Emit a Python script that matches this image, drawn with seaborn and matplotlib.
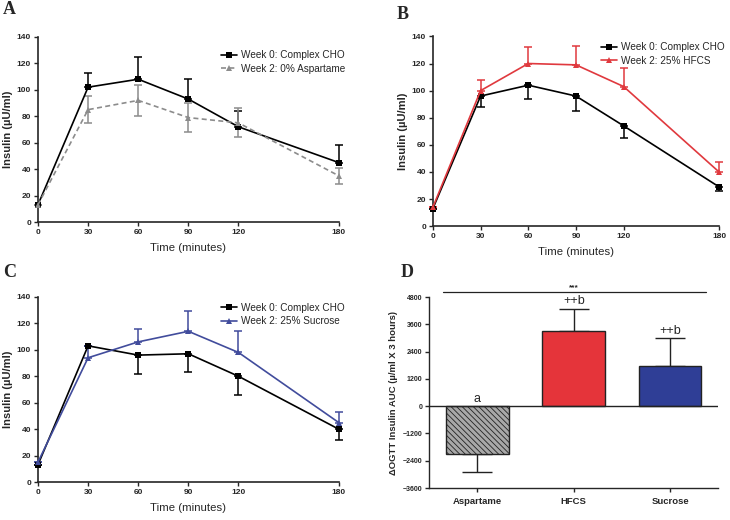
import numpy as np
import pandas as pd
import matplotlib
matplotlib.use("Agg")
import matplotlib.pyplot as plt
import seaborn as sns

sns.set_style("ticks")
plt.rcParams['font.family'] = ['Liberation Sans', 'DejaVu Sans']
plt.rcParams['hatch.linewidth'] = 0.6

time_min = [0, 30, 60, 90, 120, 180]

# Panel A
a_week0 = [13, 102, 108, 93, 72, 45]
a_week0_err = [0, 11, 17, 15, 12, 13]
a_week2 = [13, 85, 92, 79, 75, 35]
a_week2_err = [0, 10, 12, 11, 11, 6]
# Panel B
b_week0 = [13, 96, 104, 96, 74, 29]
b_week0_err = [0, 8, 10, 11, 9, 3]
b_week2 = [14, 100, 120, 119, 103, 40]
b_week2_err = [0, 8, 12, 14, 14, 7]
# Panel C
c_week0 = [13, 103, 96, 97, 80, 40]
c_week0_err = [0, 0, 14, 14, 14, 8]
c_week2 = [15, 94, 106, 114, 98, 45]
c_week2_err = [0, 9, 10, 15, 16, 8]
# Panel D
d_groups = ["Aspartame", "HFCS", "Sucrose"]
d_auc = [-2100, 3300, 1750]
d_err = [800, 1000, 1250]
d_labels = ["a", "++b", "++b"]

RED = "#E0393E"
BLUE = "#414C9C"
GRAY = "#8C8C8C"

fig = plt.figure(figsize=(7.3, 5.2), dpi=100)


def line_panel(ax, y0, e0, y1, e1, lab1, col1, ls1, mk1, err0_dir, err1_dir, leg_anchor):
    df = pd.DataFrame({"t": time_min * 2,
                       "v": y0 + y1,
                       "g": ["Week 0: Complex CHO"] * 6 + [lab1] * 6})

    def eb(y, e, col, direction):
        y = np.array(y); e = np.array(e)
        if direction == "up":
            yerr = [np.zeros_like(e), e]
        elif direction == "down":
            yerr = [e, np.zeros_like(e)]
        else:
            yerr = [e, e]
        ax.errorbar(time_min, y, yerr=yerr, fmt="none", ecolor=col,
                    elinewidth=1.1, capsize=3, capthick=1.1, clip_on=False, zorder=2)
    eb(y0, e0, "black", err0_dir)
    eb(y1, e1, col1, err1_dir)
    sns.lineplot(data=df, x="t", y="v", hue="g", style="g",
                 palette=["black", col1], markers=["s", mk1],
                 dashes=[(None, None), ls1], markersize=5, markeredgewidth=0,
                 linewidth=1.2, ax=ax, clip_on=False, zorder=3)
    ax.set_xlim(0, 180)
    ax.set_ylim(0, 140)
    ax.set_xticks([0, 30, 60, 90, 120, 180])
    ax.set_yticks(range(0, 141, 20))
    ax.set_xlabel("Time (minutes)", fontsize=8.2, labelpad=5)
    ax.set_ylabel("Insulin (µU/ml)", fontsize=8, fontweight="bold", labelpad=3)
    ax.tick_params(labelsize=6, width=1.0, length=3, pad=2)
    for l in ax.get_xticklabels() + ax.get_yticklabels():
        l.set_fontweight("bold")
    for s in ["left", "bottom"]:
        ax.spines[s].set_linewidth(1.2)
    sns.despine(ax=ax)
    ax.legend(loc="upper right", frameon=False, fontsize=7.2,
              bbox_to_anchor=leg_anchor, handlelength=1.6, handletextpad=0.4,
              labelspacing=0.35, borderaxespad=0.2)


axA = fig.add_axes([0.052, 0.573, 0.412, 0.356])
line_panel(axA, a_week0, a_week0_err, a_week2, a_week2_err, "Week 2: 0% Aspartame",
           GRAY, (3, 2), "^", "up", "both", (1.04, 0.96))
axB = fig.add_axes([0.593, 0.565, 0.392, 0.365])
line_panel(axB, b_week0, b_week0_err, b_week2, b_week2_err, "Week 2: 25% HFCS",
           RED, (None, None), "^", "down", "up", (1.04, 1.0))
axC = fig.add_axes([0.052, 0.073, 0.412, 0.356])
line_panel(axC, c_week0, c_week0_err, c_week2, c_week2_err, "Week 2: 25% Sucrose",
           BLUE, (None, None), "^", "down", "up", (1.04, 1.0))

# Panel D
axD = fig.add_axes([0.588, 0.0615, 0.396, 0.367])
dfd = pd.DataFrame({"group": d_groups, "auc": d_auc})
sns.barplot(data=dfd, x="group", y="auc", hue="group",
            palette=["#9A9A9A", "#E5343A", "#2F3E96"], saturation=1, width=0.65,
            edgecolor="#222222", linewidth=1.0, ax=axD, legend=False, zorder=2)
for i, p in enumerate(axD.patches):
    if i == 0:
        p.set_hatch("\\\\\\\\\\\\")
        p.set_facecolor("#A8A8A8")
for i, (v, e) in enumerate(zip(d_auc, d_err)):
    yerr = [[e], [0]] if v < 0 else [[0], [e]]
    axD.errorbar([i], [v], yerr=yerr, fmt="none", ecolor="#222222",
                 elinewidth=1.0, capsize=11, capthick=1.0, zorder=1)
for i, (v, e, t) in enumerate(zip(d_auc, d_err, d_labels)):
    ytxt = (v + e + 60) if v > 0 else 60
    axD.text(i, ytxt, t, ha="center", va="bottom", fontsize=9)
axD.axhline(0, color="#222222", linewidth=1.0, zorder=3)
axD.set_xlim(-0.5, 2.5)
axD.set_ylim(-3600, 4800)
axD.set_yticks(range(-3600, 4801, 1200))
axD.set_xlabel("")
axD.set_ylabel("ΔOGTT Insulin AUC (µ/ml X 3 hours)", fontsize=6.8, fontweight="bold", labelpad=3)
axD.tick_params(axis="y", labelsize=5, width=1.0, length=3, pad=2)
axD.tick_params(axis="x", labelsize=6.8, width=1.0, length=3)
for l in axD.get_xticklabels() + axD.get_yticklabels():
    l.set_fontweight("bold")
for s in ["left", "bottom"]:
    axD.spines[s].set_linewidth(1.0)
sns.despine(ax=axD)
axD.plot([-0.355, 2.376], [5030, 5030], color="#222222", linewidth=0.9, clip_on=False)
axD.text(1.0, 5060, "***", ha="center", va="bottom", fontsize=6, fontweight="bold")

# Panel letters
for x, y, t in [(0.004, 0.982, "A"), (0.543, 0.972, "B"), (0.004, 0.476, "C"), (0.549, 0.476, "D")]:
    fig.text(x, y, t, fontsize=13, fontweight="bold", family="Liberation Serif", va="center")

fig.savefig("out.png", dpi=100)
